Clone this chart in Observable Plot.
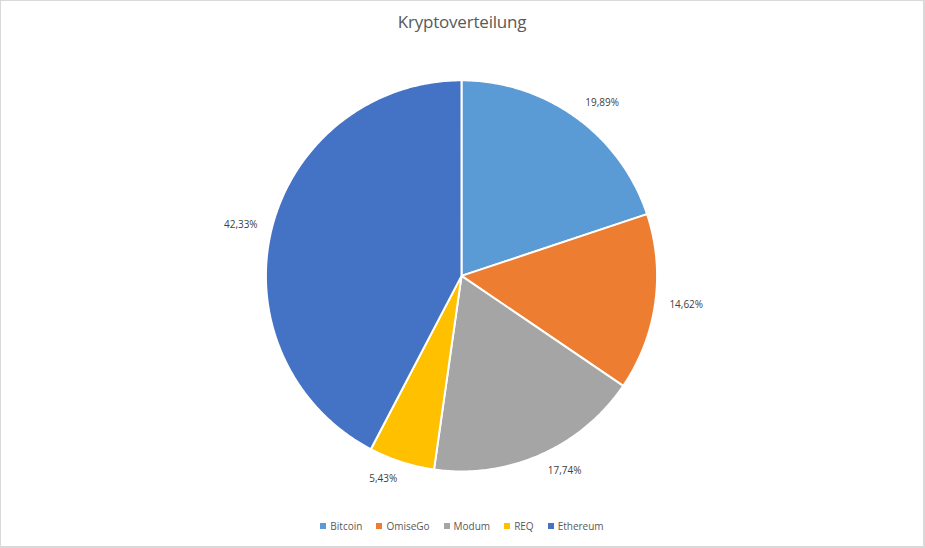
<!DOCTYPE html>
<html>
<head>
<meta charset="utf-8">
<script src="https://cdn.jsdelivr.net/npm/d3@7"></script>
<script src="https://cdn.jsdelivr.net/npm/@observablehq/plot@0.6"></script>
<style>
  html, body { margin: 0; padding: 0; background: #fff; }
  #wrap { position: relative; width: 925px; height: 548px; box-sizing: border-box; border: 1px solid #d9d9d9; border-right-width: 2px; border-bottom-width: 2px; overflow: hidden; font-family: "Open Sans", "Noto Sans", sans-serif; }
  #title { position: absolute; left: 0; right: 0; top: 9px; text-align: center; font-size: 17px; color: #595959; letter-spacing: -0.2px; }
  #chart { position: absolute; left: -1px; top: -1px; }
  #legend { position: absolute; left: 0; right: 0; top: 518px; display: flex; justify-content: center; gap: 14px; font-size: 10px; color: #595959; }
  #legend .it { display: flex; align-items: center; }
  #legend .sw { width: 6px; height: 6px; margin-right: 4px; }
</style>
</head>
<body>
<div id="wrap">
  <div id="title">Kryptoverteilung</div>
  <div id="chart"></div>
  <div id="legend"></div>
</div>
<script>
const categories = ["Bitcoin", "OmiseGo", "Modum", "REQ", "Ethereum"];
const values = [19.89, 14.62, 17.74, 5.43, 42.33];
const labels = ["19,89%", "14,62%", "17,74%", "5,43%", "42,33%"];
const colors = ["#5B9BD5", "#ED7D31", "#A5A5A5", "#FFC000", "#4472C4"];

const R = 196, GAP = 12;
const arcs = d3.pie().sort(null).value((d, i) => values[i])(categories.map((c, i) => i));

const pts = [];
const lab = [];
arcs.forEach((a, k) => {
  const name = categories[k];
  pts.push({name, x: 0, y: 0});
  const n = Math.max(2, Math.ceil((a.endAngle - a.startAngle) / 0.01));
  for (let j = 0; j <= n; j++) {
    const t = a.startAngle + (a.endAngle - a.startAngle) * j / n;
    pts.push({name, x: R * Math.sin(t), y: R * Math.cos(t)});
  }
  const m = (a.startAngle + a.endAngle) / 2;
  const s = Math.sin(m), c = Math.cos(m);
  const hw = labels[k].length * 3.2;
  lab.push({
    name, label: labels[k],
    x: (R + GAP) * s + hw * Math.max(-1, Math.min(1, 3 * s)),
    y: (R + GAP) * c + 6 * c
  });
});

const chart = Plot.plot({
  width: 925, height: 548,
  margin: 0,
  x: {domain: [-462, 463], axis: null},
  y: {domain: [-272, 276], axis: null},
  color: {domain: categories, range: colors},
  style: {fontFamily: "'Open Sans', 'Noto Sans', sans-serif", background: "transparent"},
  marks: [
    Plot.line(pts, {x: "x", y: "y", z: "name", fill: "name", stroke: "white", strokeWidth: 2, curve: "linear-closed", strokeLinejoin: "round"}),
    Plot.text(lab, {x: "x", y: "y", text: "label", fill: "#404040", fontSize: 10})
  ]
});
document.getElementById("chart").appendChild(chart);

const lg = document.getElementById("legend");
categories.forEach((c, i) => {
  const it = document.createElement("div");
  it.className = "it";
  it.innerHTML = `<span class="sw" style="background:${colors[i]}"></span><span>${c}</span>`;
  lg.appendChild(it);
});
</script>
</body>
</html>
